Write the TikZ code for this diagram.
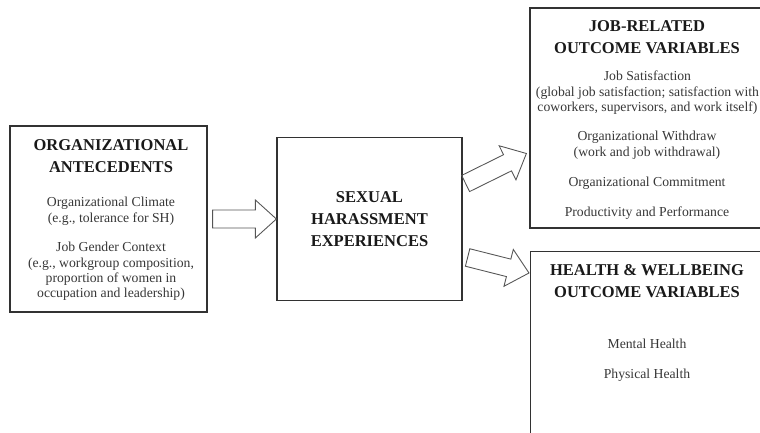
\documentclass[tikz,border=0pt]{standalone}
\usepackage{fontspec}
\setmainfont{Liberation Serif}
\usetikzlibrary{calc}
\definecolor{linegray}{RGB}{50,50,50}
\definecolor{textgray}{RGB}{55,55,55}
\definecolor{arrowgray}{RGB}{85,85,85}
\begin{document}
\begin{tikzpicture}[
  box/.style={draw=linegray, line width=0.7pt, inner sep=0},
  head/.style={anchor=north, align=center, inner sep=0, text=black!90,
    font=\fontsize{9.4pt}{12.5pt}\selectfont\bfseries},
  body/.style={anchor=north, align=center, inner sep=0, text=textgray,
    font=\fontsize{7.8pt}{8.7pt}\selectfont},
  fatarrow/.style={draw=arrowgray, line width=0.5pt, to path={
    ($(\tikztostart)!0.18cm!90:(\tikztotarget)$)
    -- ($($(\tikztotarget)!0.42cm!(\tikztostart)$)!0.18cm!90:(\tikztotarget)$)
    -- ($($(\tikztotarget)!0.42cm!(\tikztostart)$)!0.38cm!90:(\tikztotarget)$)
    -- (\tikztotarget)
    -- ($($(\tikztotarget)!0.42cm!(\tikztostart)$)!0.38cm!-90:(\tikztotarget)$)
    -- ($($(\tikztotarget)!0.42cm!(\tikztostart)$)!0.18cm!-90:(\tikztotarget)$)
    -- ($(\tikztostart)!0.18cm!-90:(\tikztotarget)$)
    -- cycle}}
]
\clip (0, 0) rectangle (15.2, 8.66);

% antecedents
\node[box, minimum width=3.94cm, minimum height=3.72cm] (ant) at (2.17, 4.28) {};
\node[head] (anthead) at (2.22, 5.88) {ORGANIZATIONAL\\ANTECEDENTS};
\node[body] (antclim) at (2.22, 4.72) {Organizational Climate\\(e.g., tolerance for SH)};
\node[body] (antgend) at (2.22, 3.82) {Job Gender Context\\(e.g., workgroup composition,\\proportion of women in\\occupation and leadership)};

% harassment
\node[box, head, anchor=center, minimum width=3.7cm, minimum height=3.26cm] (sh) at (7.39, 4.28) {SEXUAL\\HARASSMENT\\EXPERIENCES};

% job outcomes
\node[box, minimum width=4.7cm, minimum height=4.4cm] (job) at (12.95, 6.3) {};
\node[head] (jobhead) at (12.94, 8.26) {JOB-RELATED\\OUTCOME VARIABLES};
\node[body] (jobsat) at (12.95, 7.24) {Job Satisfaction\\(global job satisfaction; satisfaction with\\coworkers, supervisors, and work itself)};
\node[body] (jobwd) at (12.94, 6.04) {Organizational Withdraw\\(work and job withdrawal)};
\node[body] (jobcom) at (12.94, 5.12) {Organizational Commitment};
\node[body] (jobperf) at (12.94, 4.52) {Productivity and Performance};

% health outcomes
\node[box, anchor=north west, minimum width=4.7cm, minimum height=4cm] (hw) at (10.6, 3.64) {};
\node[head] (hwhead) at (12.94, 3.38) {HEALTH \& WELLBEING\\OUTCOME VARIABLES};
\node[body] (hwment) at (12.94, 1.88) {Mental Health};
\node[body] (hwphys) at (12.94, 1.28) {Physical Health};

% arrows
\coordinate (a1s) at ([xshift=0.1cm]ant.east);
\coordinate (a2s) at ([shift={(0.06,0.71)}]sh.east);
\coordinate (a2e) at ([shift={(-0.06,-0.71)}]job.west);
\coordinate (a3s) at ([shift={(0.1,-0.77)}]sh.east);
\coordinate (a3e) at ([shift={(-0.02,-0.44)}]hw.north west);
\draw[fatarrow] (a1s) to (sh.west);
\draw[fatarrow] (a2s) to (a2e);
\draw[fatarrow] (a3s) to (a3e);
\end{tikzpicture}
\end{document}
